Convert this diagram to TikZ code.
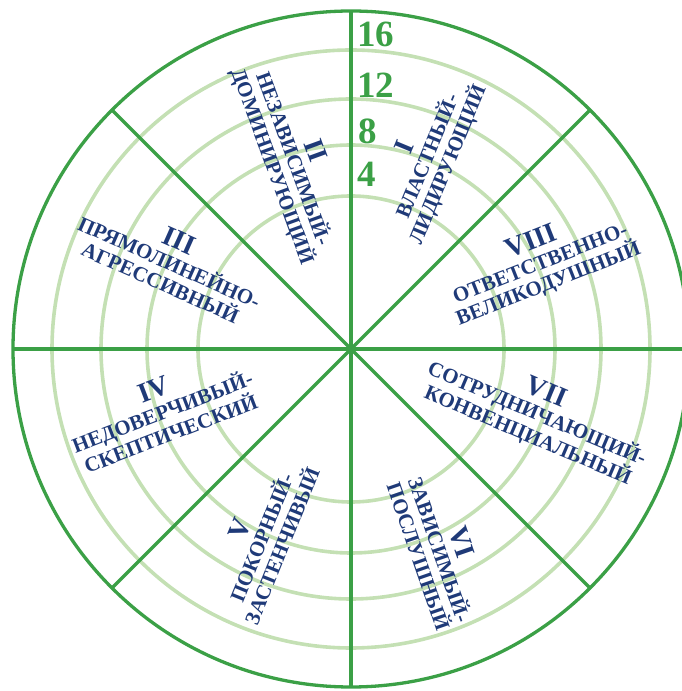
\documentclass[tikz,border=0pt]{standalone}
\usepackage{fontspec}
\setmainfont{Liberation Serif}
\usetikzlibrary{calc}
\definecolor{dgreen}{HTML}{3BA046}
\definecolor{lgreen}{HTML}{C4E0B4}
\definecolor{navy}{HTML}{1F3A78}
\newcommand{\rn}[1]{{\fontsize{28}{22}\selectfont #1}}
\begin{document}
\begin{tikzpicture}[x=1pt,y=1pt,
  ring/.style={draw=lgreen, line width=3.6pt},
  spoke/.style={draw=dgreen, line width=3.3pt},
  num/.style={text=dgreen, font=\fontsize{37}{37}\selectfont\bfseries, anchor=base west, inner sep=0pt},
  lab/.style={text=navy, align=center, inner sep=0pt, font=\fontsize{21}{22}\selectfont\bfseries},
]
\useasboundingbox (0,0) rectangle (682,691);
\clip (0,0) rectangle (682,691);
\coordinate (c) at (351,342);
\foreach \r in {153,204,250,299} \draw[ring] (c) circle (\r);
\draw[spoke] (c) circle (338);
\foreach \a in {0,45,...,315} {
  \coordinate (o\a) at ($(c)+(\a:338)$);
  \draw[spoke] (c) -- (o\a);
}
\node[num] (n16) at (357,644.3) {16};
\node[num] (n12) at (357,593.7) {12};
\node[num] (n8)  at (358,547.7) {8};
\node[num] (n4)  at (357,504.3) {4};

\node[lab, rotate=67.5] (s1) at (427,535) {\rn{I}\\ВЛАСТНЫЙ-\\ЛИДИРУЮЩИЙ};
\node[lab, rotate=-70] (s2) at (293.5,532.5) {\rn{II}\\НЕЗАВИСИМЫЙ-\\ДОМИНИРУЮЩИЙ};
\node[lab, rotate=-24] (s3) at (170,430) {\rn{III}\\ПРЯМОЛИНЕЙНО-\\АГРЕССИВНЫЙ};
\node[lab, rotate=21] (s4) at (162,280) {\rn{IV}\\НЕДОВЕРЧИВЫЙ-\\СКЕПТИЧЕСКИЙ};
\node[lab, rotate=68] (s5) at (260,154) {\rn{V}\\ПОКОРНЫЙ-\\ЗАСТЕНЧИВЫЙ};
\node[lab, rotate=-71] (s6) at (441,142) {\rn{VI}\\ЗАВИСИМЫЙ-\\ПОСЛУШНЫЙ};
\node[lab, rotate=-23] (s7) at (537,277) {\rn{VII}\\СОТРУДНИЧАЮЩИЙ-\\КОНВЕНЦИАЛЬНЫЙ};
\node[lab, rotate=21.5] (s8) at (540,428) {\rn{VIII}\\ОТВЕТСТВЕННО-\\ВЕЛИКОДУШНЫЙ};
\end{tikzpicture}
\end{document}
